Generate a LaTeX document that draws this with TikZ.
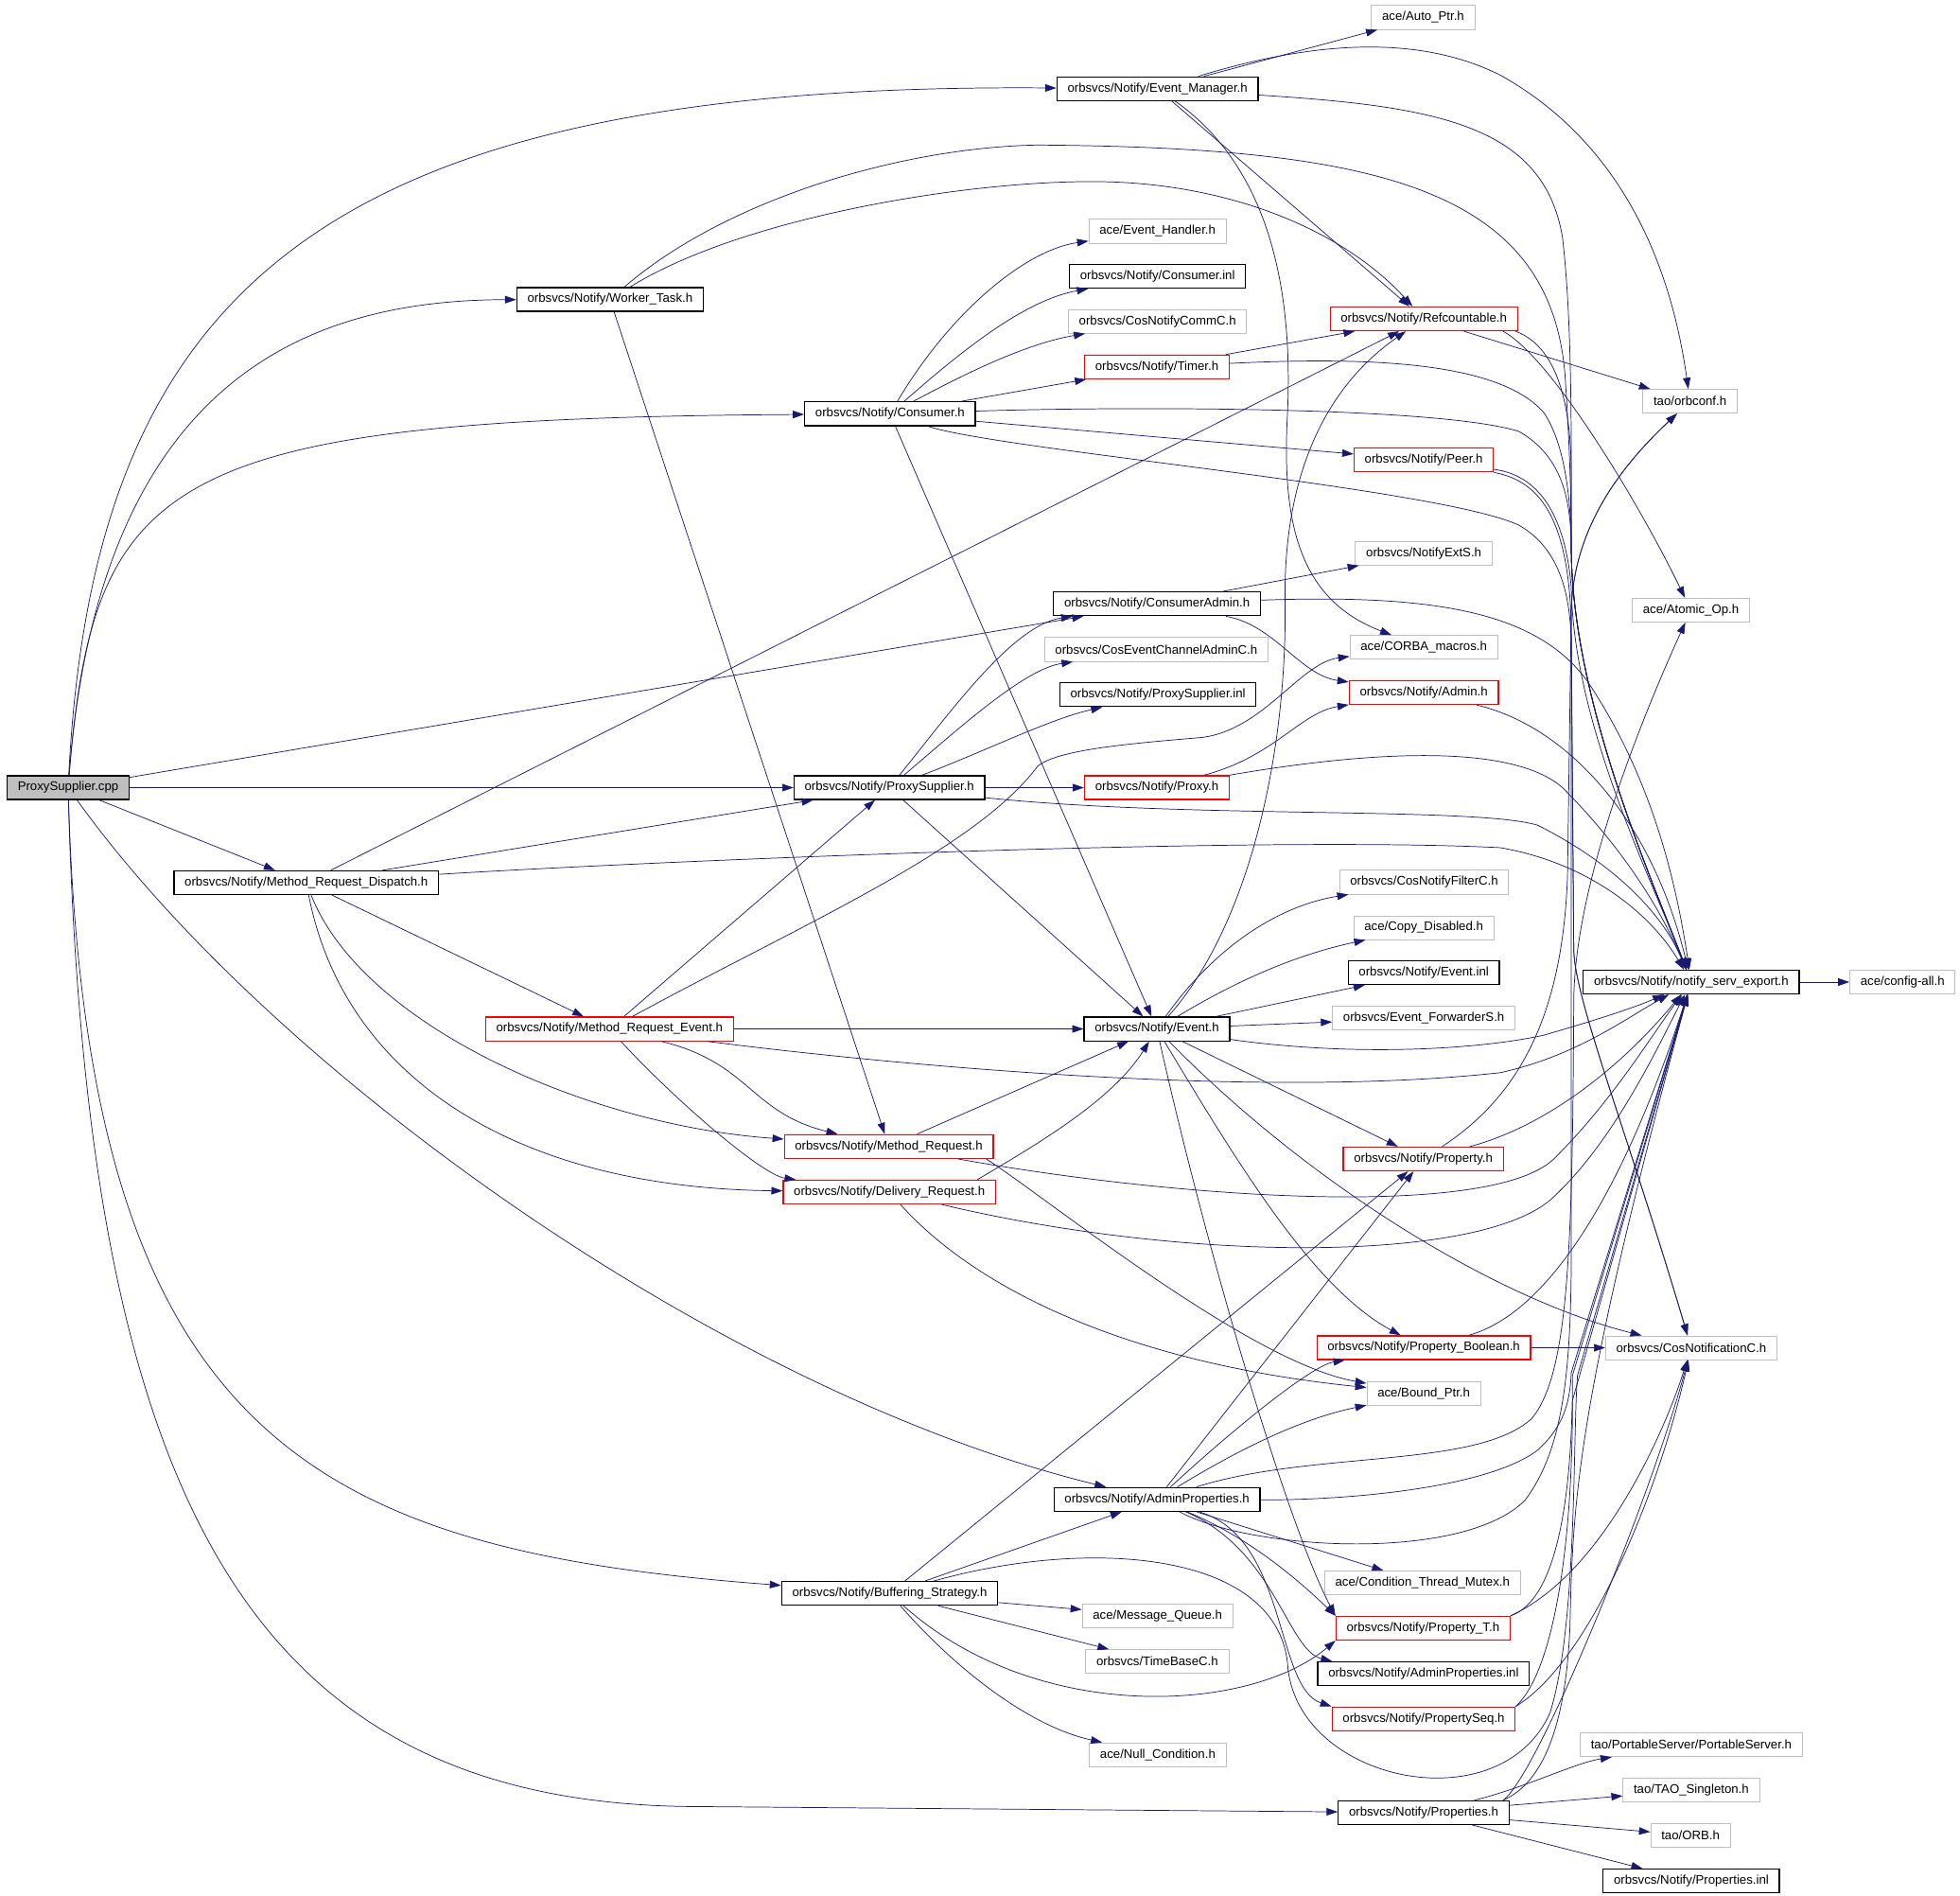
\documentclass[tikz,border=0pt]{standalone}
\usepackage{fontspec}
\setmainfont{Liberation Sans}
\usetikzlibrary{arrows.meta}
\definecolor{edgeblue}{HTML}{191970}
\definecolor{extgray}{HTML}{BFBFBF}

\begin{document}
\begin{tikzpicture}[x=1pt, y=-1pt, >={Triangle[length=9pt,width=6pt]},
    hdrbox/.style={draw, rectangle, minimum height=19pt, inner xsep=8.5pt, inner ysep=0pt,
                   font=\fontsize{10}{12}\selectfont, line width=0.9pt},
    docfile/.style={hdrbox, draw=black},
    partfile/.style={hdrbox, draw=red},
    extfile/.style={hdrbox, draw=extgray, line width=0.7pt},
    rootfile/.style={hdrbox, draw=black, fill=extgray},
    dep/.style={->, color=edgeblue, line width=0.55pt}]
    \useasboundingbox (0,0) rectangle (1568,1516);
    \fill[white] (0,0) rectangle (1568,1516);

    \node[rootfile] (root)    at (54.5,630)     {ProxySupplier.cpp};
    \node[docfile]  (em)      at (926,71)       {orbsvcs/Notify/Event\_Manager.h};
    \node[extfile]  (autoptr) at (1138.5,14)    {ace/Auto\_Ptr.h};
    \node[docfile]  (wt)      at (488,239.5)    {orbsvcs/Notify/Worker\_Task.h};
    \node[extfile]  (evh)     at (926,185)      {ace/Event\_Handler.h};
    \node[docfile]  (cinl)    at (926,221)      {orbsvcs/Notify/Consumer.inl};
    \node[extfile]  (ccomm)   at (926,257)      {orbsvcs/CosNotifyCommC.h};
    \node[partfile] (timer)   at (925.5,293.5)  {orbsvcs/Notify/Timer.h};
    \node[partfile] (refc)    at (1139,255)     {orbsvcs/Notify/Refcountable.h};
    \node[extfile]  (orbconf) at (1352,321)     {tao/orbconf.h};
    \node[docfile]  (cons)    at (712,331)      {orbsvcs/Notify/Consumer.h};
    \node[partfile] (peer)    at (1139,368)     {orbsvcs/Notify/Peer.h};
    \node[extfile]  (extS)    at (1139,442.5)   {orbsvcs/NotifyExtS.h};
    \node[docfile]  (cadmin)  at (925.6,483)    {orbsvcs/Notify/ConsumerAdmin.h};
    \node[extfile]  (atomic)  at (1352.7,488)   {ace/Atomic\_Op.h};
    \node[extfile]  (ceca)    at (925,519.5)    {orbsvcs/CosEventChannelAdminC.h};
    \node[extfile]  (corba)   at (1139,517.7)   {ace/CORBA\_macros.h};
    \node[docfile]  (psinl)   at (926.3,555.7)  {orbsvcs/Notify/ProxySupplier.inl};
    \node[partfile] (admin)   at (1139,554)     {orbsvcs/Notify/Admin.h};
    \node[docfile]  (ps)      at (711.5,630)    {orbsvcs/Notify/ProxySupplier.h};
    \node[partfile] (proxy)   at (925.5,630)    {orbsvcs/Notify/Proxy.h};
    \node[docfile]  (mrd)     at (245,706)      {orbsvcs/Notify/Method\_Request\_Dispatch.h};
    \node[extfile]  (filt)    at (1139.3,705.6) {orbsvcs/CosNotifyFilterC.h};
    \node[extfile]  (copyd)   at (1139,742)     {ace/Copy\_Disabled.h};
    \node[docfile]  (einl)    at (1139,778)     {orbsvcs/Notify/Event.inl};
    \node[extfile]  (fwd)     at (1139,814.5)   {orbsvcs/Event\_ForwarderS.h};
    \node[docfile]  (event)   at (925.5,823)    {orbsvcs/Notify/Event.h};
    \node[partfile] (mre)     at (487.6,823)    {orbsvcs/Notify/Method\_Request\_Event.h};
    \node[docfile]  (servexp) at (1353,785.5)   {orbsvcs/Notify/notify\_serv\_export.h};
    \node[extfile]  (cfgall)  at (1522,785.5)   {ace/config-all.h};
    \node[partfile] (mr)      at (711,917)      {orbsvcs/Notify/Method\_Request.h};
    \node[partfile] (dr)      at (711.5,953.5)  {orbsvcs/Notify/Delivery\_Request.h};
    \node[partfile] (prop)    at (1138.6,927)   {orbsvcs/Notify/Property.h};
    \node[partfile] (pbool)   at (1139,1078)    {orbsvcs/Notify/Property\_Boolean.h};
    \node[extfile]  (cnot)    at (1353,1078)    {orbsvcs/CosNotificationC.h};
    \node[extfile]  (bptr)    at (1139,1114.5)  {ace/Bound\_Ptr.h};
    \node[docfile]  (aprop)   at (925.6,1199.3) {orbsvcs/Notify/AdminProperties.h};
    \node[extfile]  (ctm)     at (1138,1266)    {ace/Condition\_Thread\_Mutex.h};
    \node[extfile]  (mq)      at (926,1292.5)   {ace/Message\_Queue.h};
    \node[docfile]  (bs)      at (711.7,1274.5) {orbsvcs/Notify/Buffering\_Strategy.h};
    \node[partfile] (propt)   at (1138.4,1302.3) {orbsvcs/Notify/Property\_T.h};
    \node[extfile]  (tbase)   at (925.8,1329)   {orbsvcs/TimeBaseC.h};
    \node[docfile]  (apinl)   at (1138.8,1338.7) {orbsvcs/Notify/AdminProperties.inl};
    \node[partfile] (pseq)    at (1138.9,1374.8) {orbsvcs/Notify/PropertySeq.h};
    \node[extfile]  (nullc)   at (926.2,1403.5) {ace/Null\_Condition.h};
    \node[extfile]  (pserv)   at (1353,1395.6)  {tao/PortableServer/PortableServer.h};
    \node[extfile]  (tsing)   at (1353,1431.8)  {tao/TAO\_Singleton.h};
    \node[docfile]  (props)   at (1138.9,1449.8) {orbsvcs/Notify/Properties.h};
    \node[extfile]  (orb)     at (1352.4,1468)  {tao/ORB.h};
    \node[docfile]  (pinl)    at (1353,1504.5)  {orbsvcs/Notify/Properties.inl};

    \path[dep]
    (root) edge (cadmin)
    (root) edge (ps)
    (root) edge (mrd)
    (em) edge (autoptr)
    (em) edge (refc)
    (wt) edge (mr)
    (cons) edge (timer)
    (cons) edge (peer)
    (cons) edge (event)
    (timer) edge (refc)
    (refc) edge (orbconf)
    (cadmin) edge (extS)
    (ps) edge (proxy)
    (ps) edge (event)
    (mrd) edge (refc)
    (mrd) edge (ps)
    (mrd) edge (mre)
    (mre) edge (ps)
    (mre) edge (event)
    (mr) edge (event)
    (event) edge (einl)
    (event) edge (fwd)
    (event) edge (prop)
    (pbool) edge (cnot)
    (aprop) edge (prop)
    (aprop) edge (ctm)
    (bs) edge (prop)
    (bs) edge (aprop)
    (bs) edge (mq)
    (bs) edge (tbase)
    (props) edge (tsing)
    (props) edge (orb)
    (props) edge (pinl)
    (servexp) edge (cfgall);

    \draw[dep] (root) .. controls (75,230) and (260,66) .. (em);
    \draw[dep] (root) .. controls (80,300) and (250,240) .. (wt);
    \draw[dep] (root) .. controls (75,380) and (130,335) .. (cons);
    \draw[dep] (root) .. controls (220,860) and (580,1115) .. (aprop);
    \draw[dep] (root) .. controls (70,1150) and (250,1240) .. (bs);
    \draw[dep] (root) .. controls (70,1200) and (200,1445) .. (560,1445) -- (props);

    \draw[dep] (em) .. controls (1060,30) and (1140,30) .. (1200,60) .. controls (1290,110) and (1335,200) .. (orbconf);
    \draw[dep] (em) .. controls (1150,85) and (1235,100) .. (1250,190) .. controls (1258,260) and (1257,350) .. (1257,440) .. controls (1258,560) and (1320,700) .. (servexp);
    \draw[dep] (em) .. controls (1010,130) and (1035,220) .. (1030,330) .. controls (1025,420) and (1040,480) .. (corba);

    \draw[dep] (wt) .. controls (600,170) and (800,140) .. (900,146) .. controls (1000,152) and (1080,190) .. (refc);
    \draw[dep] (wt) .. controls (580,160) and (720,118) .. (830,116) .. controls (1100,118) and (1240,150) .. (1252,300) .. controls (1256,360) and (1257,400) .. (1257,440) .. controls (1258,560) and (1320,700) .. (servexp);

    \draw[dep] (cons) .. controls (760,250) and (820,200) .. (evh);
    \draw[dep] (cons) .. controls (770,280) and (820,240) .. (cinl);
    \draw[dep] (cons) .. controls (770,300) and (820,275) .. (ccomm);
    \draw[dep] (cons) .. controls (900,325) and (1150,325) .. (1215,345) .. controls (1250,365) and (1257,400) .. (1257,440) .. controls (1258,560) and (1320,700) .. (servexp);
    \draw[dep] (cons) .. controls (800,360) and (1150,390) .. (1215,420) .. controls (1250,440) and (1257,480) .. (1257,520) -- (1259,760) .. controls (1260,800) and (1300,900) .. (cnot);

    \draw[dep] (timer) .. controls (1100,285) and (1200,290) .. (1235,330) .. controls (1252,355) and (1257,400) .. (1257,440) .. controls (1258,560) and (1320,700) .. (servexp);

    \draw[dep] ([xshift=-12pt]refc.south east) .. controls (1240,285) and (1310,400) .. (atomic);
    \draw[dep] ([xshift=-2pt]refc.south east) .. controls (1240,275) and (1257,310) .. (1257,380) -- (1257,440) .. controls (1258,560) and (1320,700) .. (servexp);

    \draw[dep] (peer) .. controls (1230,380) and (1252,410) .. (1257,470) .. controls (1259,580) and (1320,700) .. (servexp);
    \draw[dep] (peer) .. controls (1235,385) and (1255,420) .. (1257,500) -- (1259,760) .. controls (1260,800) and (1300,900) .. (cnot);

    \draw[dep] (cadmin) .. controls (1020,500) and (1040,540) .. (admin);
    \draw[dep] (cadmin) .. controls (1150,475) and (1230,490) .. (1270,545) .. controls (1320,620) and (1340,700) .. (servexp);

    \draw[dep] (ps) .. controls (760,570) and (810,500) .. (cadmin);
    \draw[dep] (ps) .. controls (770,580) and (820,535) .. (ceca);
    \draw[dep] (ps) .. controls (790,600) and (840,575) .. (psinl);
    \draw[dep] (ps) .. controls (950,655) and (1180,645) .. (1230,660) .. controls (1290,690) and (1330,730) .. (servexp);

    \draw[dep] (proxy) .. controls (1020,605) and (1040,570) .. (admin);
    \draw[dep] (proxy) .. controls (1100,600) and (1210,595) .. (1250,630) .. controls (1300,680) and (1330,730) .. (servexp);
    \draw[dep] (admin) .. controls (1250,580) and (1320,650) .. (servexp);

    \draw[dep] (mrd) .. controls (500,690) and (1000,668) .. (1200,678) .. controls (1270,690) and (1320,730) .. (servexp);
    \draw[dep] (mrd) .. controls (290,820) and (470,900) .. (mr);
    \draw[dep] (mrd) .. controls (275,860) and (410,950) .. (dr);

    \draw[dep] (mre) .. controls (640,740) and (780,680) .. (830,613) .. controls (845,600) and (900,595) .. (960,590) .. controls (1010,585) and (1040,530) .. (corba);
    \draw[dep] (mre) .. controls (700,850) and (1000,880) .. (1200,858) .. controls (1260,845) and (1300,815) .. (servexp);
    \draw[dep] (mre) .. controls (600,850) and (600,890) .. (mr);
    \draw[dep] (mre) .. controls (540,880) and (610,940) .. (dr);

    \draw[dep] (mr) .. controls (950,960) and (1200,975) .. (1245,925) .. controls (1290,880) and (1320,830) .. (servexp);
    \draw[dep] ([xshift=-6pt]mr.south east) .. controls (840,960) and (1000,1090) .. (bptr);

    \draw[dep] ([xshift=-15pt]dr.north east) .. controls (830,915) and (890,880) .. (event);
    \draw[dep] (dr) .. controls (950,1010) and (1180,1010) .. (1240,960) .. controls (1290,915) and (1325,840) .. (servexp);
    \draw[dep] (dr) .. controls (780,1030) and (900,1090) .. (bptr);

    \draw[dep] (event) .. controls (1000,740) and (1030,600) .. (1028,480) .. controls (1027,380) and (1060,310) .. (refc);
    \draw[dep] (event) .. controls (970,760) and (1020,725) .. (filt);
    \draw[dep] (event) .. controls (980,790) and (1030,765) .. (copyd);
    \draw[dep] (event) .. controls (1080,845) and (1180,840) .. (1235,828) .. controls (1280,815) and (1310,805) .. (servexp);
    \draw[dep] (event) .. controls (990,930) and (1050,1030) .. (pbool);
    \draw[dep] (event) .. controls (1050,950) and (1200,1040) .. (cnot);
    \draw[dep] (event) .. controls (965,1000) and (1030,1220) .. (propt.north west);

    \draw[dep] (prop) .. controls (1210,880) and (1250,820) .. (1254,700) -- (1257,490) .. controls (1258,420) and (1300,370) .. (orbconf);
    \draw[dep] (prop) .. controls (1240,900) and (1300,850) .. (servexp);
    \draw[dep] (pbool) .. controls (1240,1050) and (1300,950) .. (servexp);

    \draw[dep] (aprop) .. controls (990,1140) and (1050,1092) .. (pbool);
    \draw[dep] (aprop) .. controls (990,1160) and (1040,1135) .. (bptr);
    \draw[dep] (aprop) .. controls (1050,1160) and (1180,1175) .. (1225,1135) .. controls (1255,1100) and (1258,1000) .. (1259,800) .. controls (1260,700) and (1320,560) .. (atomic);
    \draw[dep] (aprop) .. controls (1080,1200) and (1190,1190) .. (1230,1160) .. controls (1252,1140) and (1256,1120) .. (1257,1098) -- (servexp);
    \draw[dep] (aprop) .. controls (1000,1240) and (1170,1250) .. (1220,1200) .. controls (1250,1160) and (1257,1100) .. (1257,1000) -- (1257,490) .. controls (1258,420) and (1300,370) .. (orbconf);
    \draw[dep] (aprop) .. controls (1000,1230) and (1040,1265) .. (propt.north west);
    \draw[dep] (aprop) .. controls (1020,1240) and (1030,1320) .. ([xshift=12pt]apinl.north west);
    \draw[dep] (aprop) .. controls (1030,1230) and (1020,1350) .. (pseq.north west);

    \draw[dep] (bs) .. controls (760,1330) and (820,1380) .. (nullc);
    \draw[dep] (bs) .. controls (830,1380) and (1000,1370) .. (propt.south west);
    \draw[dep] (bs) .. controls (870,1230) and (1020,1240) .. (1030,1330) .. controls (1035,1425) and (1200,1460) .. (1240,1370) .. controls (1262,1300) and (1258,1150) .. (1262,1100) -- (servexp);

    \draw[dep] (propt.north east) .. controls (1245,1280) and (1258,1200) .. (1258,1100) -- (servexp);
    \draw[dep] (propt.north east) .. controls (1280,1260) and (1330,1150) .. (cnot);
    \draw[dep] (pseq.north east) .. controls (1240,1340) and (1258,1250) .. (1258,1120) -- (servexp);
    \draw[dep] (pseq.north east) .. controls (1270,1330) and (1325,1200) .. (cnot);

    \draw[dep] (props) .. controls (1220,1430) and (1260,1410) .. (pserv);
    \draw[dep] ([xshift=-5pt]props.north east) .. controls (1225,1430) and (1252,1400) .. (1256,1300) .. controls (1258,1200) and (1262,1120) .. (servexp);
    \draw[dep] ([xshift=-5pt]props.north east) .. controls (1230,1420) and (1320,1200) .. (cnot);
\end{tikzpicture}
\end{document}
